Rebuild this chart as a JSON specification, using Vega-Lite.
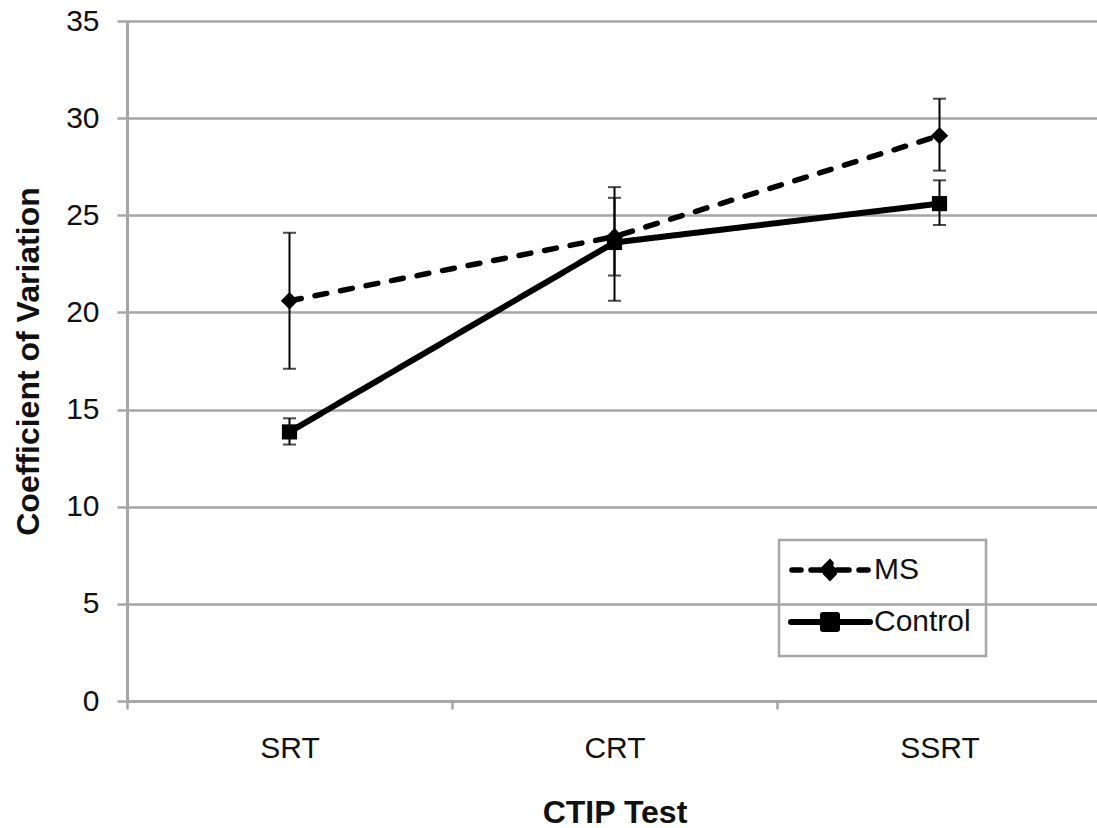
{
  "$schema": "https://vega.github.io/schema/vega-lite/v6.json",
  "width": 975,
  "height": 680,
  "autosize": {"type": "none"},
  "padding": {"left": 127, "top": 21, "right": 0, "bottom": 127},
  "background": "white",
  "config": {
    "view": {"stroke": null},
    "font": "Liberation Sans",
    "axis": {
      "gridColor": "#a6a6a6",
      "gridWidth": 2.5,
      "domainColor": "#a6a6a6",
      "domainWidth": 3,
      "tickColor": "#a6a6a6",
      "tickWidth": 2.5,
      "labelFont": "Liberation Sans",
      "labelFontSize": 30,
      "labelColor": "#111111",
      "titleFont": "Liberation Sans",
      "titleFontSize": 32,
      "titleFontWeight": "bold",
      "titleColor": "#111111"
    }
  },
  "data": {
    "values": [
      {"test": "SRT", "group": "MS", "mean": 20.6, "lo": 17.1, "hi": 24.1},
      {"test": "CRT", "group": "MS", "mean": 23.9, "lo": 20.6, "hi": 26.45},
      {"test": "SSRT", "group": "MS", "mean": 29.1, "lo": 27.3, "hi": 31.0},
      {"test": "SRT", "group": "Control", "mean": 13.85, "lo": 13.2, "hi": 14.55},
      {"test": "CRT", "group": "Control", "mean": 23.6, "lo": 21.9, "hi": 25.9},
      {"test": "SSRT", "group": "Control", "mean": 25.6, "lo": 24.5, "hi": 26.8}
    ]
  },
  "encoding": {
    "x": {
      "field": "test",
      "type": "nominal",
      "sort": ["SRT", "CRT", "SSRT"],
      "scale": {"paddingInner": 0, "paddingOuter": 0},
      "axis": {
        "title": "CTIP Test",
        "labelAngle": 0,
        "grid": false,
        "tickBand": "extent",
        "tickSize": 8,
        "labelPadding": 24,
        "titlePadding": 34
      }
    }
  },
  "layer": [
    {
      "mark": {"type": "rule", "color": "black", "strokeWidth": 2},
      "encoding": {
        "y": {
          "field": "lo",
          "type": "quantitative",
          "scale": {"domain": [0, 35], "nice": false},
          "axis": {
            "title": "Coefficient of Variation",
            "values": [0, 5, 10, 15, 20, 25, 30, 35],
            "grid": true,
            "tickSize": 10,
            "labelPadding": 18,
            "titlePadding": 20
          }
        },
        "y2": {"field": "hi"}
      }
    },
    {
      "mark": {"type": "tick", "color": "black", "thickness": 2, "size": 13},
      "encoding": {"y": {"field": "lo", "type": "quantitative"}}
    },
    {
      "mark": {"type": "tick", "color": "black", "thickness": 2, "size": 13},
      "encoding": {"y": {"field": "hi", "type": "quantitative"}}
    },
    {
      "mark": {"type": "line", "strokeCap": "round"},
      "encoding": {
        "y": {"field": "mean", "type": "quantitative"},
        "strokeDash": {
          "field": "group",
          "type": "nominal",
          "scale": {"domain": ["MS", "Control"], "range": [[12, 14], [1, 0]]},
          "legend": null
        },
        "strokeWidth": {
          "field": "group",
          "type": "nominal",
          "scale": {"domain": ["MS", "Control"], "range": [5.5, 6]},
          "legend": null
        },
        "color": {
          "field": "group",
          "type": "nominal",
          "scale": {"domain": ["MS", "Control"], "range": ["black", "black"]},
          "legend": {
            "orient": "none",
            "legendX": 652,
            "legendY": 519,
            "title": null,
            "strokeColor": "#a6a6a6",
            "padding": 15,
            "symbolOffset": 21,
            "labelOffset": 29,
            "rowPadding": 14,
            "symbolSize": 400,
            "symbolStrokeColor": "black",
            "symbolFillColor": "black",
            "symbolStrokeWidth": 5,
            "symbolDash": [1, 0],
            "symbolOpacity": 1,
            "labelFont": "Liberation Sans",
            "labelFontSize": 30,
            "labelColor": "#111111",
            "encode": {
              "legend": {
                "update": {
                  "strokeWidth": {"value": 2.5}
                }
              },
              "symbols": {
                "update": {
                  "shape": {"signal": "datum.value === 'MS' ? 'M-3.8,0H-2.9M-1.9,0H-0.7M-0.75,0L0,-0.75L0.75,0L0,0.75ZM0.7,0H1.9M2.9,0H3.8' : 'M-4,0H-0.7V-0.7H0.7V0.7H-0.7V0ZM0.7,0H4'"},
                  "fill": {"value": "black"},
                  "stroke": {"value": "black"},
                  "strokeWidth": {"value": 5},
                  "strokeCap": {"value": "round"}
                }
              }
            }
          }
        }
      }
    },
    {
      "transform": [{"filter": "datum.group === 'MS'"}],
      "mark": {"type": "point", "filled": true, "color": "black", "opacity": 1, "shape": "diamond", "size": 300},
      "encoding": {
        "y": {"field": "mean", "type": "quantitative"}
      }
    },
    {
      "transform": [{"filter": "datum.group === 'Control'"}],
      "mark": {"type": "point", "filled": true, "color": "black", "opacity": 1, "shape": "square", "size": 230},
      "encoding": {
        "y": {"field": "mean", "type": "quantitative"}
      }
    }
  ]
}
